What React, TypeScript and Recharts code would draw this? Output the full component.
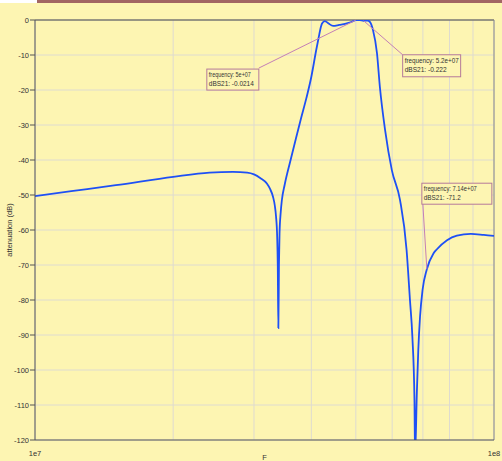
import React from 'react';
import { LineChart, Line, XAxis, YAxis, CartesianGrid, ReferenceLine, ReferenceDot } from 'recharts';

const freqHz = [
  1.0e7, 1.2e7, 1.5e7, 2.0e7, 2.4e7, 2.7e7, 2.9e7, 3.0e7, 3.1e7, 3.2e7, 3.25e7, 3.3e7,
  3.33e7, 3.35e7, 3.37e7, 3.38e7, 3.39e7, 3.4e7, 3.41e7, 3.43e7, 3.45e7, 3.5e7, 3.6e7,
  3.7e7, 3.8e7, 3.9e7, 4.0e7, 4.1e7, 4.15e7, 4.2e7, 4.22e7, 4.28e7, 4.36e7, 4.46e7, 4.6e7,
  4.8e7, 4.9e7, 5.0e7, 5.1e7, 5.2e7, 5.3e7, 5.37e7, 5.45e7, 5.56e7, 5.64e7, 5.79e7, 5.99e7,
  6.24e7, 6.45e7, 6.56e7, 6.64e7, 6.71e7, 6.73e7, 6.79e7, 6.84e7, 6.9e7, 6.99e7, 7.14e7,
  7.38e7, 7.51e7, 7.9e7, 8.3e7, 8.9e7, 9.5e7, 1.0e8,
];
const dBS21 = [
  -50.3, -48.9, -47.2, -44.8, -43.6, -43.4, -43.6, -44.1, -45.2, -46.7, -48.2, -50.5,
  -53, -56, -62, -70, -88, -70, -61, -55, -51.5, -47, -40.3,
  -34, -28, -22.4, -16.2, -8.5, -5, -1.8, -1.0, -0.3, -1.0, -1.7, -1.4,
  -0.9, -0.5, -0.0214, -0.05, -0.222, -0.15, -0.6, -2.9, -9.5, -19, -31.4, -42.9,
  -51.4, -65.7, -80, -90.5, -108.6, -125, -106.6, -94.3, -84.8, -77, -71.2,
  -66.7, -65.5, -62.9, -61.6, -61.1, -61.4, -61.7,
];

const xTicks = [1e7, 2e7, 3e7, 4e7, 5e7, 6e7, 7e7, 8e7, 9e7, 1e8];
const xTickLabels: Record<number, string> = { 10000000: '1e7', 100000000: '1e8' };
const yTicks = [-120, -110, -100, -90, -80, -70, -60, -50, -40, -30, -20, -10, 0];

const markerFreq = [5e7, 5.2e7, 7.14e7];
const markerDb = [-0.0214, -0.222, -71.2];
const markerFreqText = ['5e+07', '5.2e+07', '7.14e+07'];
const markerDbText = ['-0.0214', '-0.222', '-71.2'];

// box placement (pixel offsets relative to marker point) - styling only
const boxStyle = [
  { dx: -149, dy: 49, w: 52, h: 21, lx: 52, ly: -1, t1: 42, t2: 45 },
  { dx: 39, dy: 34, w: 58, h: 22, lx: 0, ly: 0, t1: 54, t2: 42 },
  { dx: -5, dy: -86, w: 70, h: 21, lx: 1, ly: 21, t1: 53, t2: 37 },
];

const data = freqHz.map((f, i) => ({ f, db: dBS21[i] }));

const BG = '#fdf5b2';
const FONT = "'Liberation Sans', Arial, sans-serif";

function makeMarkerShape(i: number) {
  const s = boxStyle[i];
  return (props: any) => {
    const { cx, cy } = props;
    const bx = cx + s.dx;
    const by = cy + s.dy;
    return (
      <g>
        <line x1={bx + s.lx} y1={by + s.ly} x2={cx} y2={cy} stroke="#c47fb6" strokeWidth={1} />
        <rect x={bx} y={by} width={s.w} height={s.h} fill={BG} stroke="#b57a9a" strokeWidth={1} />
        <text x={bx + 2} y={by + 8} fontSize={8} fontFamily={FONT} fill="#333"
          textLength={s.t1} lengthAdjust="spacingAndGlyphs">{`frequency: ${markerFreqText[i]}`}</text>
        <text x={bx + 2} y={by + 17} fontSize={8} fontFamily={FONT} fill="#333"
          textLength={s.t2} lengthAdjust="spacingAndGlyphs">{`dBS21: ${markerDbText[i]}`}</text>
      </g>
    );
  };
}

export default function App() {
  return (
    <div style={{ position: 'absolute', left: 0, top: 0, width: 502, height: 461, background: BG, overflow: 'hidden' }}>
      <div style={{ position: 'absolute', left: 0, top: 0, width: 37, height: 3, background: '#ffffff' }} />
      <div style={{ position: 'absolute', left: 37, top: 0, width: 465, height: 3, background: '#a26663' }} />
      <div style={{ position: 'absolute', left: 0, top: 0 }}>
        <LineChart width={502} height={461} data={data} margin={{ top: 20, right: 8, bottom: 0, left: 0 }}>
          <CartesianGrid stroke="#dedbd0" strokeWidth={1} />
          <XAxis
            dataKey="f"
            type="number"
            scale="log"
            domain={[1e7, 1e8]}
            ticks={xTicks}
            interval={0}
            allowDataOverflow
            height={21}
            tickFormatter={(v: number) => xTickLabels[Math.round(v)] || ''}
            tick={{ fontSize: 7.5, fontFamily: FONT, fill: '#333' }}
            tickLine={false}
            tickMargin={5}
            axisLine={{ stroke: '#555' }}
            label={{
              content: (p: any) => {
                const vb = p.viewBox;
                return (
                  <text x={vb.x + vb.width / 2} y={vb.y + 20} textAnchor="middle" fontSize={7.5} fontFamily={FONT} fill="#333">F</text>
                );
              },
            }}
          />
          <YAxis
            type="number"
            domain={[-120, 0]}
            ticks={yTicks}
            interval={0}
            allowDataOverflow
            width={35}
            tick={{ fontSize: 7.5, fontFamily: FONT, fill: '#333' }}
            tickSize={5}
            tickMargin={1}
            tickLine={{ stroke: '#555' }}
            axisLine={{ stroke: '#555' }}
            label={{
              content: (p: any) => {
                const vb = p.viewBox;
                const cx = vb.x + 10;
                const cy = vb.y + vb.height / 2;
                return (
                  <text x={cx} y={cy} textAnchor="middle" dominantBaseline="middle" fontSize={7.5} fontFamily={FONT} fill="#333"
                    transform={`rotate(-90, ${cx}, ${cy})`}>attenuation (dB)</text>
                );
              },
            }}
          />
          <ReferenceLine y={0} stroke="#444" strokeWidth={1} />
          <ReferenceLine x={1e8} stroke="#888" strokeWidth={1} />
          <Line
            type="monotone"
            dataKey="db"
            stroke="#1e50f5"
            strokeWidth={1.8}
            dot={false}
            isAnimationActive={false}
          />
          {markerFreq.map((f, i) => (
            <ReferenceDot key={i} x={f} y={markerDb[i]} r={1} shape={makeMarkerShape(i)} ifOverflow="visible" />
          ))}
        </LineChart>
      </div>
    </div>
  );
}
